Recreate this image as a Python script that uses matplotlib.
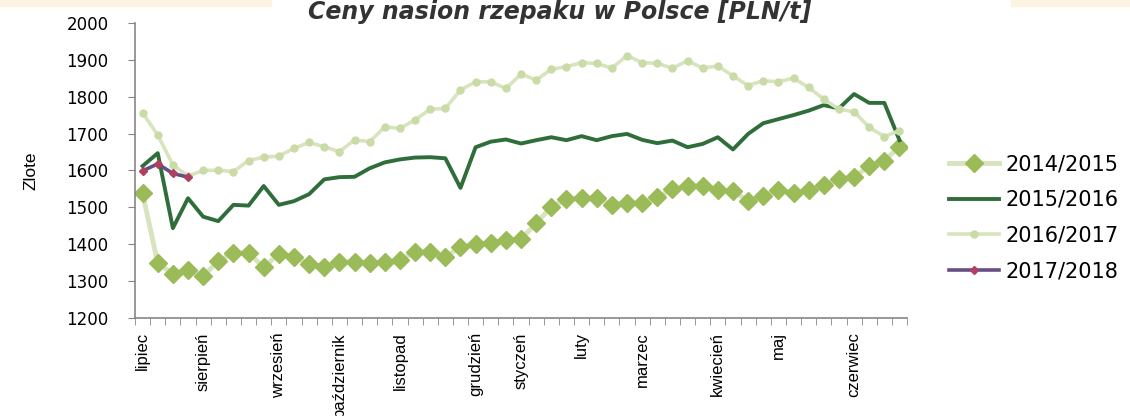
import numpy as np
import matplotlib
matplotlib.use("Agg")
import matplotlib.pyplot as plt
from matplotlib.patches import Rectangle

# weekly prices, July .. June
s1415 = [1538, 1349, 1321, 1330, 1314, 1355, 1377, 1377, 1338, 1374,
         1365, 1347, 1340, 1352, 1353, 1350, 1351, 1358, 1380, 1380,
         1367, 1392, 1401, 1405, 1412, 1415, 1457, 1502, 1522, 1525,
         1525, 1507, 1513, 1512, 1527, 1549, 1558, 1558, 1547, 1545,
         1518, 1531, 1547, 1540, 1547, 1561, 1576, 1582, 1612, 1627, 1664]
s1516 = [1612, 1647, 1444, 1525, 1475, 1463, 1507, 1505, 1558, 1507,
         1517, 1536, 1576, 1582, 1583, 1606, 1622, 1630, 1635, 1636,
         1633, 1553, 1663, 1678, 1684, 1673, 1682, 1690, 1682, 1693,
         1682, 1693, 1699, 1683, 1674, 1681, 1663, 1672, 1690, 1657,
         1699, 1728, 1739, 1750, 1762, 1777, 1768, 1807, 1783, 1783, 1682]
s1617 = [1756, 1696, 1615, 1585, 1600, 1601, 1597, 1627, 1636, 1639,
         1660, 1676, 1664, 1651, 1683, 1678, 1718, 1714, 1737, 1766,
         1768, 1818, 1840, 1840, 1822, 1861, 1845, 1874, 1881, 1892,
         1890, 1877, 1911, 1892, 1890, 1877, 1897, 1877, 1883, 1856,
         1830, 1843, 1840, 1850, 1825, 1793, 1766, 1759, 1717, 1692, 1708]
s1718 = [1599, 1618, 1592, 1582]

month_pos = [0, 4, 9, 13, 17, 22, 25, 29, 33, 38, 42, 47]
month_lab = ["lipiec", "sierpień", "wrzesień", "październik", "listopad",
             "grudzień", "styczeń", "luty", "marzec", "kwiecień", "maj", "czerwiec"]

fig = plt.figure(figsize=(11.3, 4.16), dpi=100)
fig.patches.append(Rectangle((0, 0.985), 0.24, 0.015, transform=fig.transFigure,
                             color="#FDF3E3", zorder=0))
fig.patches.append(Rectangle((0.895, 0.985), 0.105, 0.015, transform=fig.transFigure,
                             color="#FDF3E3", zorder=0))
ax = fig.add_axes([0.1195, 0.2349, 0.6832, 0.7105])

x = np.arange(len(s1415))
ax.plot(x, s1415, color="#D7E4BD", lw=3.5, marker="D", ms=9,
        mfc="#9BBB59", mec="#9BBB59", label="2014/2015", zorder=2)
ax.plot(x, s1516, color="#2F6E3B", lw=2.8, label="2015/2016", zorder=3)
ax.plot(x, s1617, color="#D7E4BD", lw=2.6, marker="o", ms=5,
        mfc="#C9DBA6", mec="#C9DBA6", label="2016/2017", zorder=4)
ax.plot(np.arange(len(s1718)), s1718, color="#664E85", lw=2.6, marker="D", ms=4,
        mfc="#B04060", mec="#B04060", label="2017/2018", zorder=5)

ax.set_xlim(-0.5, len(s1415) - 0.5)
ax.set_ylim(1200, 2000)
ax.set_yticks(np.arange(1200, 2001, 100))
ax.set_xticks(month_pos)
ax.set_xticklabels(month_lab, rotation=90, family="Liberation Sans", fontsize=12)
ax.set_xticks(np.arange(-0.5, len(s1415), 1), minor=True)
ax.tick_params(axis="x", which="major", length=0, pad=10)
ax.tick_params(axis="x", which="minor", length=5, color="#868686", direction="out")
ax.tick_params(axis="y", length=5, color="#868686", labelsize=12, pad=14)
for sp in ["top", "right"]:
    ax.spines[sp].set_visible(False)
for sp in ["left", "bottom"]:
    ax.spines[sp].set_color("#868686")
    ax.spines[sp].set_linewidth(1.2)

ax.set_ylabel("Zlote", family="Liberation Sans", fontsize=12.5)
ax.yaxis.set_label_coords(-0.125, 0.5)

fig.text(0.495, 1.0, "Ceny nasion rzepaku w Polsce [PLN/t]", ha="center", va="top",
         fontsize=17, fontweight="bold", style="italic", color="#333333")

ax.legend(loc="center left", bbox_to_anchor=(1.03, 0.34), frameon=False,
          fontsize=15, handlelength=2.4, labelspacing=0.75, handletextpad=0.3)

fig.savefig("out.png", dpi=100)
